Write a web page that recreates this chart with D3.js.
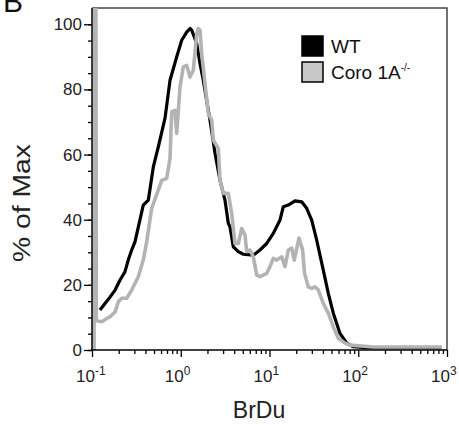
<!DOCTYPE html>
<html>
<head>
<meta charset="utf-8">
<script src="https://cdn.jsdelivr.net/npm/d3@7"></script>
<style>
  html, body { margin: 0; padding: 0; background: #fff; }
  text { font-family: "Liberation Sans", Arial, sans-serif; }
</style>
</head>
<body>
<svg id="chart" width="459" height="425"></svg>
<script>
// ---- data (BrDu fluorescence, % of max) ----
const wtX = [0.123,0.140,0.160,0.182,0.207,0.235,0.256,0.280,0.305,0.378,0.431,0.491,0.559,0.665,0.757,0.900,1.025,1.167,1.271,1.328,1.513,1.648,1.795,2.044,2.136,2.432,2.769,3.152,3.434,3.589,3.909,4.450,5.070,6.57,7.81,9.30,11.04,13.13,14.30,16.29,19.37,23.06,26.24,29.89,34.04,40.37,45.97,52.36,62.27,74.1,87.9,120,400,870];
const wtY = [12.3,14.3,16.3,18.4,21.5,24.0,27.6,30.7,33.2,44.5,46.0,56.2,62.4,71.2,82.8,90.0,95.1,97.6,98.7,98.2,94.1,87.9,82.8,73.6,70.6,60.4,52.1,46.0,38.9,37.8,31.7,30.2,29.4,29.1,30.7,32.7,35.8,39.9,44.0,44.5,45.8,45.5,43.5,39.9,33.7,24.5,17.4,11.3,5.1,2.1,1.0,0.7,0.7,0.7];

const koX = [0.1055,0.107,0.110,0.112,0.1286,0.1464,0.160,0.182,0.198,0.216,0.246,0.280,0.3325,0.378,0.4132,0.4706,0.6102,0.6942,0.757,0.791,0.861,0.900,0.981,1.068,1.167,1.271,1.386,1.513,1.577,1.648,1.722,1.875,2.044,2.233,2.327,2.649,2.769,3.015,3.434,3.75,4.08,4.45,4.864,5.30,5.53,6.03,6.57,7.18,7.81,9.30,10.13,11.04,12.05,13.73,14.95,16.29,17.78,19.0,21.5,23.6,24.8,27.35,29.89,32.56,35.5,40.37,45.97,52.36,59.6,70.9,80.7,150,878];
const koY = [0,150,150,9.0,8.7,9.7,10.2,11.7,14.8,15.9,15.9,18.4,22.5,27.6,33.2,43.5,52.1,52.7,58.8,73.1,73.6,66.5,80.8,86.9,87.4,83.8,85.9,97.1,98.7,98.2,91.0,81.8,72.6,70.6,64.4,61.9,52.1,48.1,48.1,41.9,32.7,32.7,37.3,35.3,30.2,30.7,28.6,23.0,22.5,23.5,25.6,28.1,27.6,28.6,25.6,30.7,31.3,27.6,34.4,30.7,23.6,19.4,18.9,19.4,18.4,14.3,11.3,7.1,3.6,2.1,1.5,0.9,0.9];

const yTicks = [0, 20, 40, 60, 80, 100];
const yMinor = d3.range(0, 101, 5);
const xDecades = [-1, 0, 1, 2, 3];
const legendLabels = ["WT", "Coro 1A"];

// ---- layout ----
const svg = d3.select("#chart");
const L = 92, R = 447, T = 8, B = 350;
const x = d3.scaleLog().domain([0.1, 1000]).range([L, R]);
const y = d3.scaleLinear().domain([0, 105]).range([B, T]);

// panel letter (cropped at top)
svg.append("text").attr("x", 3).attr("y", 12).attr("font-size", 30)
  .attr("fill", "#111").text("B");

// frame (top, right)
svg.append("path")
  .attr("d", `M${L},${T}H${R}V${B}`)
  .attr("fill", "none").attr("stroke", "#444").attr("stroke-width", 1.5);

// clip
svg.append("clipPath").attr("id", "clip").append("rect")
  .attr("x", L).attr("y", T).attr("width", R - L).attr("height", B - T);

const line = d3.line().x(d => x(d[0])).y(d => y(d[1]));

const g = svg.append("g").attr("clip-path", "url(#clip)");
g.append("path").datum(wtX.map((v, i) => [v, wtY[i]]))
  .attr("d", line).attr("fill", "none").attr("stroke", "#000")
  .attr("stroke-width", 3.2).attr("stroke-linejoin", "round");
g.append("path").datum(koX.map((v, i) => [v, koY[i]]))
  .attr("d", line).attr("fill", "none").attr("stroke", "#b3b3b3")
  .attr("stroke-width", 3.6).attr("stroke-linejoin", "round");

// y axis
const yAxisG = svg.append("g").attr("transform", `translate(${L},0)`);
yAxisG.call(d3.axisLeft(y).tickValues(yMinor).tickSize(4).tickFormat(""));
yAxisG.append("g").call(d3.axisLeft(y).tickValues(yTicks).tickSize(8).tickPadding(2)
  .tickFormat(d3.format("d")));
yAxisG.selectAll(".domain").remove();
yAxisG.append("line").attr("x1", 0).attr("x2", 0).attr("y1", T).attr("y2", B + 0.5)
  .attr("stroke", "#000").attr("stroke-width", 1.5);
yAxisG.selectAll(".tick line").attr("stroke", "#000").attr("stroke-width", 1.3);
yAxisG.selectAll(".tick text").attr("font-size", 17).attr("fill", "#222")
  .attr("font-family", "Liberation Sans, Arial, sans-serif");

// x axis
const minorX = [];
xDecades.slice(0, -1).forEach(e => { for (let k = 2; k <= 9; k++) minorX.push(k * Math.pow(10, e)); });
const xAxisG = svg.append("g").attr("transform", `translate(0,${B})`);
xAxisG.call(d3.axisBottom(x).tickValues(minorX).tickSize(4).tickFormat(""));
xAxisG.append("g").call(d3.axisBottom(x).tickValues(xDecades.map(e => Math.pow(10, e)))
  .tickSize(7).tickFormat(""));
xAxisG.selectAll(".domain").remove();
xAxisG.append("line").attr("x1", L - 0.75).attr("x2", R).attr("y1", 0).attr("y2", 0)
  .attr("stroke", "#000").attr("stroke-width", 1.5);
xAxisG.selectAll(".tick line").attr("stroke", "#000").attr("stroke-width", 1.3);

// x tick labels with superscripts ("10" ends just right of the tick)
xDecades.forEach(e => {
  const t = svg.append("text").attr("x", x(Math.pow(10, e)) - 16).attr("y", B + 32)
    .attr("text-anchor", "start").attr("font-size", 17).attr("fill", "#222");
  t.append("tspan").text("10");
  t.append("tspan").attr("dy", -7).attr("font-size", 12).text(String(e));
});

// axis titles
svg.append("text").attr("x", 259).attr("y", 418).attr("text-anchor", "middle")
  .attr("font-size", 23).attr("fill", "#222").text("BrDu");
svg.append("text").attr("transform", "translate(30,203) rotate(-90)")
  .attr("text-anchor", "middle").attr("font-size", 23).attr("fill", "#222")
  .attr("textLength", 118).attr("lengthAdjust", "spacingAndGlyphs").text("% of Max");

// legend
const lg = svg.append("g");
const legendFill = ["#000", "#c8c8c8"];
legendLabels.forEach((lab, i) => {
  lg.append("rect").attr("x", 302).attr("y", 36 + i * 26).attr("width", 21).attr("height", 20)
    .attr("fill", legendFill[i]).attr("stroke", "#000").attr("stroke-width", 1.5);
  const t = lg.append("text").attr("x", 331).attr("y", 53 + i * 26)
    .attr("font-size", 19).attr("fill", "#111");
  t.append("tspan").text(lab);
  if (i === 1) t.append("tspan").attr("dy", -8).attr("font-size", 10).text("-/-");
});
</script>
</body>
</html>
